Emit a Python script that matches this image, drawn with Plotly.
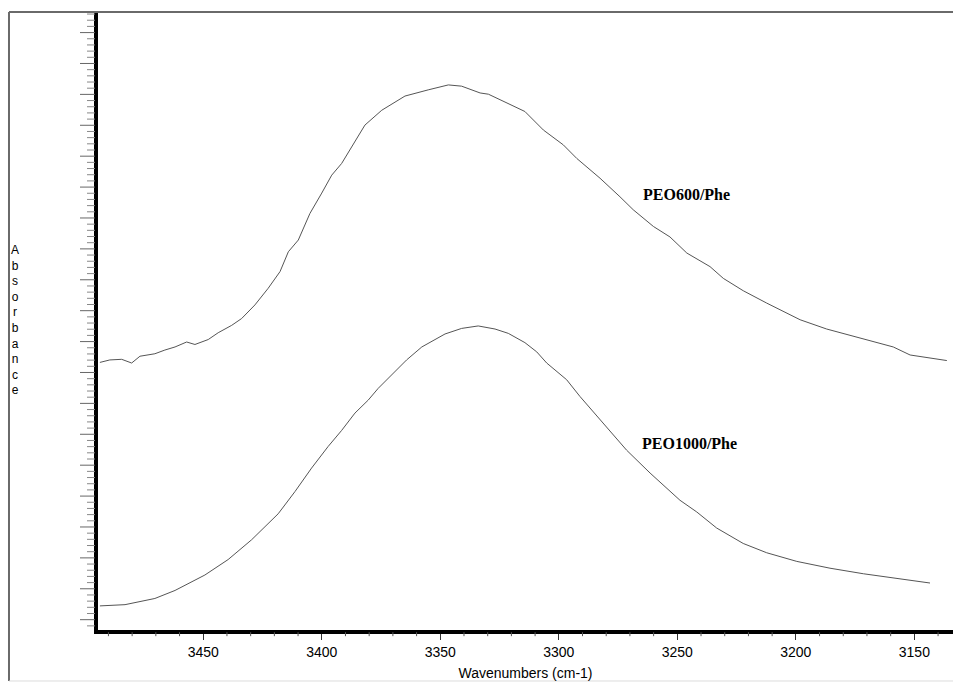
import plotly.graph_objects as go

# FTIR spectra in the O-H stretching region (wavenumbers in cm-1, absorbance in arbitrary units)
peo600_wn = [3493.6, 3489.4, 3484.4, 3480.2, 3476.7, 3470.4, 3466.2, 3461.9, 3457.0, 3453.5,
             3447.9, 3443.7, 3438.0, 3433.8, 3428.2, 3422.6, 3417.6, 3414.1, 3409.9, 3405.0,
             3400.0, 3395.8, 3391.6, 3387.4, 3381.8, 3374.7, 3364.9, 3355.1, 3346.6, 3341.0,
             3333.2, 3329.7, 3320.6, 3314.3, 3306.5, 3298.1, 3292.4, 3282.6, 3274.2, 3268.6,
             3260.1, 3253.1, 3246.0, 3236.2, 3230.6, 3222.2, 3212.3, 3198.2, 3187.0, 3172.9,
             3158.9, 3151.8, 3136.3]
peo600_abs = [0.433, 0.437, 0.438, 0.432, 0.443, 0.447, 0.453, 0.458, 0.466, 0.462,
              0.470, 0.481, 0.493, 0.504, 0.526, 0.553, 0.580, 0.612, 0.631, 0.674,
              0.707, 0.736, 0.755, 0.782, 0.817, 0.841, 0.864, 0.874, 0.882, 0.880,
              0.869, 0.867, 0.850, 0.839, 0.809, 0.785, 0.763, 0.731, 0.701, 0.680,
              0.653, 0.636, 0.610, 0.588, 0.569, 0.549, 0.529, 0.502, 0.487, 0.472,
              0.458, 0.445, 0.436]

peo1000_wn = [3493.6, 3483.0, 3470.4, 3461.9, 3449.3, 3439.5, 3429.6, 3424.0, 3418.4, 3411.3,
              3404.3, 3397.3, 3391.6, 3386.0, 3380.4, 3376.2, 3370.5, 3364.2, 3357.8, 3348.0,
              3341.0, 3334.0, 3326.9, 3321.3, 3314.3, 3309.3, 3305.1, 3296.7, 3291.1, 3282.6,
              3271.4, 3261.5, 3248.9, 3241.8, 3233.4, 3222.2, 3212.3, 3199.6, 3185.6, 3171.5,
              3151.8, 3143.4]
peo1000_abs = [0.039, 0.041, 0.051, 0.064, 0.089, 0.114, 0.146, 0.167, 0.188, 0.224,
               0.262, 0.297, 0.323, 0.351, 0.372, 0.391, 0.413, 0.437, 0.458, 0.479,
               0.488, 0.492, 0.487, 0.480, 0.465, 0.450, 0.432, 0.405, 0.378, 0.340,
               0.291, 0.254, 0.210, 0.191, 0.165, 0.140, 0.125, 0.111, 0.100, 0.091,
               0.081, 0.076]

x_ticks = [3450, 3400, 3350, 3300, 3250, 3200, 3150]
x_range = [3494.4, 3133.7]
y_range = [0, 1]

fig = go.Figure()
for wn, ab in ((peo600_wn, peo600_abs), (peo1000_wn, peo1000_abs)):
    fig.add_trace(go.Scatter(x=wn, y=ab, mode="lines",
                             line=dict(color="#555555", width=1),
                             showlegend=False, hoverinfo="skip"))

label_font = dict(family="Liberation Serif, Times New Roman, serif", size=16, color="black")
fig.add_annotation(x=3265.3, y=0.704, text="<b>PEO600/Phe</b>", showarrow=False,
                   xanchor="left", yanchor="middle", font=label_font)
fig.add_annotation(x=3265.7, y=0.301, text="<b>PEO1000/Phe</b>", showarrow=False,
                   xanchor="left", yanchor="middle", font=label_font)

# vertically stacked y-axis caption
fig.add_annotation(xref="paper", yref="paper", x=-0.0965, y=0.502,
                   text="<br>".join("Absorbance"), showarrow=False,
                   xanchor="center", yanchor="middle", align="center",
                   font=dict(family="Liberation Sans, Arial, sans-serif", size=12, color="black"))

# outer frame: left, top and bottom sides (the right side runs past the page edge)
frame = dict(color="#6a6a6a", width=2)
fig.add_shape(type="line", xref="paper", yref="paper", x0=-0.1041, x1=-0.1041,
              y0=-0.0825, y1=1.0, line=frame)
fig.add_shape(type="line", xref="paper", yref="paper", x0=-0.1041, x1=1.0,
              y0=1.0, y1=1.0, line=frame)
fig.add_shape(type="line", xref="paper", yref="paper", x0=-0.1041, x1=1.0,
              y0=-0.0825, y1=-0.0825, line=dict(color="#dddddd", width=1))

# y-axis tick marks: long every 0.05, short every 0.01
y_minor = [round(0.0067 + 0.01 * i, 4) for i in range(100) if 0.0067 + 0.01 * i < 1]
for v in y_minor:
    long_tick = abs(((v - 0.0167) / 0.05) - round((v - 0.0167) / 0.05)) < 1e-3
    fig.add_shape(type="line", xref="paper", yref="y",
                  x0=-0.0035, x1=-(0.0035 + (15 if long_tick else 8) / 855.0),
                  y0=v, y1=v, line=dict(color="#666666" if long_tick else "#888888", width=1))

# x-axis minor tick marks every 10 cm-1
x_minor = [w for w in range(3140, 3495, 10) if w % 50 != 0]
for w in x_minor:
    fig.add_shape(type="line", xref="x", yref="paper", x0=w, x1=w,
                  y0=-0.0035, y1=-(0.0035 + 4 / 618.0), line=dict(color="#555555", width=1))

fig.update_layout(
    width=953, height=683,
    margin=dict(l=98, r=0, t=12, b=53),
    paper_bgcolor="white", plot_bgcolor="white",
    font=dict(family="Liberation Sans, Arial, sans-serif", size=14, color="black"),
    xaxis=dict(range=x_range, tickvals=x_ticks, ticktext=[str(v) for v in x_ticks],
               showgrid=False, zeroline=False, showline=True, linecolor="black", linewidth=4,
               ticks="outside", ticklen=6, tickcolor="#333", tickwidth=1,
               tickfont=dict(size=14),
               title=dict(text="Wavenumbers (cm-1)", font=dict(size=14), standoff=10)),
    yaxis=dict(range=y_range, showgrid=False, zeroline=False, showline=True,
               linecolor="black", linewidth=4, showticklabels=False, ticks=""),
)

fig.write_html("out.html")
